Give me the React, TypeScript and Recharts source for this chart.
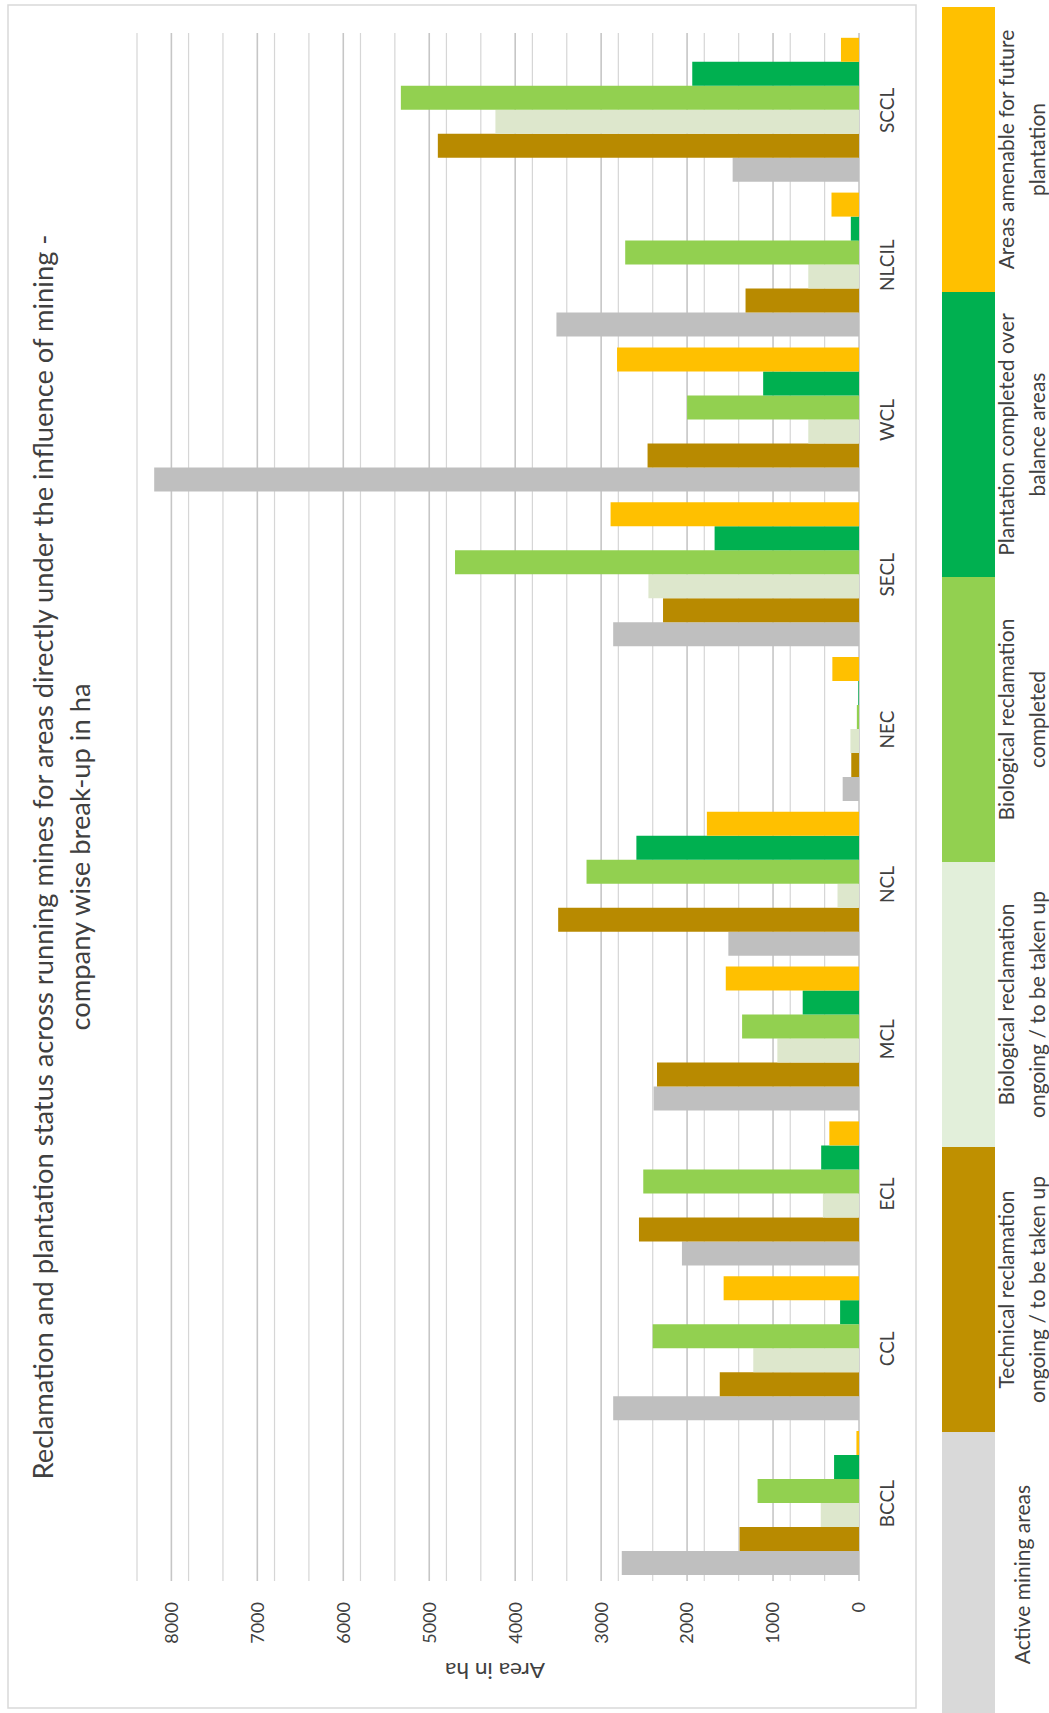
import React from 'react';
import { BarChart, Bar, XAxis, YAxis, CartesianGrid, Legend } from 'recharts';

// Company-wise break-up (area in ha)
const companies = ['BCCL', 'CCL', 'ECL', 'MCL', 'NCL', 'NEC', 'SECL', 'WCL', 'NLCIL', 'SCCL'];
const activeMining = [2760, 2860, 2060, 2390, 1520, 190, 2860, 8200, 3520, 1470];
const technicalReclamation = [1390, 1620, 2560, 2350, 3500, 90, 2280, 2460, 1320, 4900];
const bioOngoing = [445, 1230, 420, 950, 250, 100, 2450, 590, 590, 4230];
const bioCompleted = [1180, 2400, 2510, 1360, 3170, 25, 4700, 2000, 2720, 5330];
const plantationBalance = [290, 220, 440, 655, 2590, 8, 1680, 1115, 95, 1940];
const amenableFuture = [30, 1575, 345, 1550, 1770, 310, 2890, 2815, 320, 210];

const yTicks = [0, 1000, 2000, 3000, 4000, 5000, 6000, 7000, 8000];
const yMax = 8400;
const minorStep = 200;

const titleLines = [
  'Reclamation and plantation status across running mines for areas directly under the influence of mining -',
  'company wise break-up in ha',
];
const axisTitle = 'Area in ha';

const seriesKeys = ['active', 'technical', 'bioOngoing', 'bioCompleted', 'plantation', 'amenable'];
const seriesNames = [
  'Active mining areas',
  'Technical reclamation ongoing / to be taken up',
  'Biological reclamation ongoing / to be taken up',
  'Biological reclamation completed',
  'Plantation completed over balance areas',
  'Areas amenable for future plantation',
];
const legendLines = [
  ['Active mining areas'],
  ['Technical reclamation', 'ongoing / to be taken up'],
  ['Biological reclamation', 'ongoing / to be taken up'],
  ['Biological reclamation', 'completed'],
  ['Plantation completed over', 'balance areas'],
  ['Areas amenable for future', 'plantation'],
];
const barColors = ['#bfbfbf', '#b88a00', '#dde7cc', '#92d050', '#00b050', '#ffc000'];
const legendColors = ['#d9d9d9', '#bf9000', '#e2efda', '#92d050', '#00b050', '#ffc000'];

const seriesValues = [activeMining, technicalReclamation, bioOngoing, bioCompleted, plantationBalance, amenableFuture];

const data = companies.map((company, i) => {
  const row: Record<string, string | number> = { company };
  seriesKeys.forEach((k, s) => {
    row[k] = seriesValues[s][i];
  });
  return row;
});

const majorGrid = yTicks;
const minorGrid: number[] = [];
for (let v = minorStep; v <= yMax; v += minorStep) {
  if (v % 1000 !== 0) minorGrid.push(v);
}

// Landscape canvas; the whole figure is turned a quarter turn counter-clockwise.
const W = 1713;
const H = 1049;
const FONT = 'Lato, "Open Sans", sans-serif';
const TEXT = '#404040';

const LEGEND_ITEM = 285;

const renderLegend = () => (
  <div style={{ display: 'flex', width: LEGEND_ITEM * 6, height: 115 }}>
    {legendLines.map((lines, i) => (
      <div key={seriesNames[i]} style={{ position: 'relative', width: LEGEND_ITEM, height: 115 }}>
        <div
          style={{
            position: 'absolute',
            left: 0,
            top: 0,
            width: LEGEND_ITEM,
            height: 53,
            background: legendColors[i],
          }}
        />
        <div
          style={{
            position: 'absolute',
            left: 0,
            top: 48,
            width: LEGEND_ITEM,
            height: 62,
            display: 'flex',
            flexDirection: 'column',
            justifyContent: 'center',
            alignItems: 'center',
            fontFamily: FONT,
            fontSize: 21,
            lineHeight: '31px',
            color: TEXT,
            whiteSpace: 'nowrap',
          }}
        >
          {lines.map((l) => (
            <div key={l}>{l}</div>
          ))}
        </div>
      </div>
    ))}
  </div>
);

export default function App() {
  return (
    <div
      style={{
        position: 'absolute',
        left: 0,
        top: 0,
        width: W,
        height: H,
        background: '#ffffff',
        transformOrigin: '0 0',
        transform: `translate(0px, ${W}px) rotate(-90deg)`,
        overflow: 'hidden',
      }}
    >
      <svg width={W} height={H} style={{ position: 'absolute', left: 0, top: 0 }}>
        <rect x={5} y={8} width={1703} height={908} fill="#ffffff" stroke="#d9d9d9" strokeWidth={1.5} />
        <text
          x={856}
          y={53}
          textAnchor="middle"
          fontFamily={FONT}
          fontSize={27}
          fill={TEXT}
          textLength={1245}
          lengthAdjust="spacingAndGlyphs"
        >
          {titleLines[0]}
        </text>
        <text
          x={856}
          y={90}
          textAnchor="middle"
          fontFamily={FONT}
          fontSize={27}
          fill={TEXT}
          textLength={347}
          lengthAdjust="spacingAndGlyphs"
        >
          {titleLines[1]}
        </text>
        <text
          x={50}
          y={495}
          transform="rotate(-90, 50, 495)"
          textAnchor="middle"
          fontFamily={FONT}
          fontSize={22}
          fill={TEXT}
          textLength={100}
          lengthAdjust="spacingAndGlyphs"
        >
          {axisTitle}
        </text>
      </svg>
      <div style={{ position: 'absolute', left: 0, top: 0 }}>
        <BarChart
          width={W}
          height={H}
          data={data}
          margin={{ top: 137, right: 33, bottom: 160, left: 32 }}
          barCategoryGap={6}
          barGap={0}
        >
          <CartesianGrid vertical={false} horizontalValues={minorGrid} stroke="#d6d6d6" strokeWidth={1.2} />
          <CartesianGrid vertical={false} horizontalValues={majorGrid} stroke="#c6c6c6" strokeWidth={1.6} />
          <XAxis
            dataKey="company"
            height={30}
            axisLine={false}
            tickLine={false}
            tickMargin={16}
            interval={0}
            tick={{ fontFamily: FONT, fontSize: 19, fill: TEXT }}
          />
          <YAxis
            type="number"
            width={100}
            domain={[0, yMax]}
            ticks={yTicks}
            allowDataOverflow
            axisLine={false}
            tickLine={false}
            tickMargin={15}
            tick={{ fontFamily: FONT, fontSize: 18, fill: TEXT }}
          />
          <Legend
            layout="vertical"
            align="center"
            verticalAlign="middle"
            wrapperStyle={{ left: -4, top: 942, width: LEGEND_ITEM * 6, height: 115 }}
            content={renderLegend}
          />
          {seriesKeys.map((k, i) => (
            <Bar key={k} dataKey={k} name={seriesNames[i]} fill={barColors[i]} isAnimationActive={false} />
          ))}
        </BarChart>
      </div>
    </div>
  );
}
